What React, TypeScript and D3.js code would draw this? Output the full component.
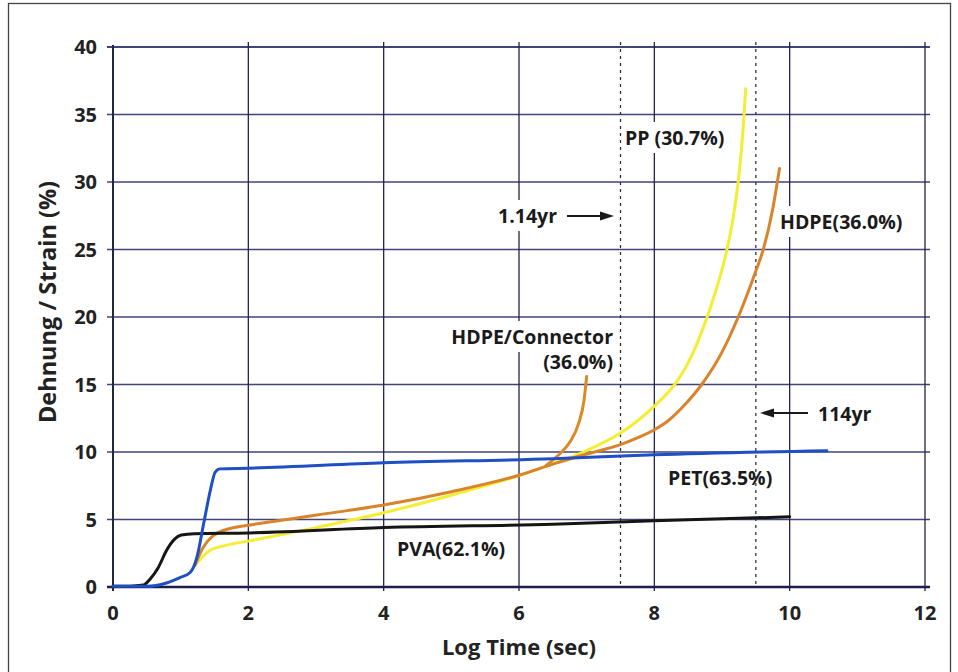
import React, { useEffect, useRef } from "react";
import * as d3 from "d3";

// ---------- data ----------
const xTicks = [0, 2, 4, 6, 8, 10, 12];
const yTicks = [0, 5, 10, 15, 20, 25, 30, 35, 40];
const markerLines = [7.5, 9.5];

const pvaX = [0, 0.3, 0.45, 0.55, 0.67, 0.79, 0.91, 1.01, 1.2, 2, 4, 6.5, 8, 10];
const pvaY = [0.05, 0.08, 0.15, 0.6, 1.45, 2.7, 3.55, 3.85, 3.95, 4.0, 4.4, 4.65, 4.9, 5.2];

const petX = [0, 0.3, 0.5, 0.79, 0.99, 1.14, 1.24, 1.34, 1.44, 1.51, 1.58, 2, 4, 6.5, 8, 10.55];
const petY = [0.05, 0.05, 0.05, 0.3, 0.7, 1.07, 2.2, 4.7, 7.2, 8.5, 8.75, 8.8, 9.2, 9.5, 9.8, 10.1];

const hdpeX = [1.21, 1.33, 1.48, 1.78, 2.03, 3.01, 4, 5, 6, 6.5, 7.0, 7.5, 7.8, 8.0, 8.2, 8.45, 8.7, 9.0, 9.24, 9.5, 9.61, 9.75, 9.85];
const hdpeY = [1.6, 2.9, 3.8, 4.4, 4.6, 5.33, 6.07, 7.06, 8.28, 9.1, 9.85, 10.55, 11.15, 11.65, 12.3, 13.5, 15.0, 17.4, 20.0, 23.4, 25.0, 28.0, 31.0];

const ppX = [1.21, 1.43, 1.68, 2, 3, 4, 5, 6, 6.6, 7.0, 7.5, 7.8, 8.0, 8.3, 8.5, 8.7, 8.9, 9.05, 9.17, 9.25, 9.31, 9.35];
const ppY = [1.6, 2.7, 3.1, 3.4, 4.4, 5.5, 6.8, 8.25, 9.3, 10.1, 11.4, 12.5, 13.4, 15.0, 16.6, 18.9, 21.8, 24.5, 27.5, 30.5, 33.8, 36.9];

const connX = [6.4, 6.6, 6.76, 6.88, 6.96, 7.0];
const connY = [9.0, 9.85, 10.8, 12.1, 13.8, 15.6];

const seriesNames = ["PP", "HDPE/Connector", "HDPE", "PVA", "PET"];

export default function App() {
  const ref = useRef<SVGSVGElement | null>(null);

  useEffect(() => {
    const svg = d3.select(ref.current);
    svg.selectAll("*").remove();
    const W = 958, H = 672;
    const x = d3.scaleLinear().domain([0, 12]).range([113, 925]);
    const y = d3.scaleLinear().domain([0, 40]).range([587, 47]);
    const font = "'Open Sans', sans-serif";
    const grid = "#2c2f6e";

    svg.append("rect").attr("x", 0).attr("y", 0).attr("width", W).attr("height", H).attr("fill", "#fff");
    svg.append("rect").attr("x", 8.5).attr("y", 3.5).attr("width", 942).attr("height", 720)
      .attr("fill", "none").attr("stroke", "#444").attr("stroke-width", 1.3);

    const g = svg.append("g");
    g.selectAll("line.h").data(yTicks.filter(t => t > 0)).join("line")
      .attr("x1", 107).attr("x2", 930)
      .attr("y1", d => y(d)).attr("y2", d => y(d))
      .attr("stroke", grid).attr("stroke-width", d => (d === 40 ? 2 : 1.3)).attr("opacity", 0.9);
    g.selectAll("line.v").data(xTicks.filter(t => t > 0)).join("line")
      .attr("x1", d => x(d)).attr("x2", d => x(d))
      .attr("y1", y(40) - 5).attr("y2", y(0) + 4)
      .attr("stroke", "#23244a").attr("stroke-width", 1.3);

    const bgLayer = svg.append("g");
    svg.selectAll("line.m").data(markerLines).join("line")
      .attr("x1", d => x(d)).attr("x2", d => x(d))
      .attr("y1", y(40) - 5).attr("y2", y(0))
      .attr("stroke", "#333").attr("stroke-width", 1.3).attr("stroke-dasharray", "3,4");

    svg.append("line").attr("x1", x(0)).attr("x2", x(0)).attr("y1", y(40) - 2).attr("y2", y(0) + 4)
      .attr("stroke", "#1d2a3a").attr("stroke-width", 2);
    svg.append("line").attr("x1", x(0) - 6).attr("x2", 930).attr("y1", y(0)).attr("y2", y(0))
      .attr("stroke", "#1d1f4a").attr("stroke-width", 2.5);

    svg.selectAll("text.yt").data(yTicks).join("text")
      .attr("x", 97).attr("y", d => y(d)).attr("dy", "0.36em").attr("text-anchor", "end")
      .attr("font-family", font).attr("font-weight", 700).attr("font-size", 20).attr("fill", "#222")
      .text(d => String(d));
    svg.selectAll("text.xt").data(xTicks).join("text")
      .attr("x", d => x(d)).attr("y", 620).attr("text-anchor", "middle")
      .attr("font-family", font).attr("font-weight", 700).attr("font-size", 20).attr("fill", "#222")
      .text(d => String(d));

    svg.append("text").attr("x", x(6)).attr("y", 655).attr("text-anchor", "middle")
      .attr("font-family", font).attr("font-weight", 700).attr("font-size", 22).attr("fill", "#222")
      .text("Log Time (sec)");
    svg.append("text").attr("transform", `translate(56,302) rotate(-90)`).attr("text-anchor", "middle")
      .attr("font-family", font).attr("font-weight", 700).attr("font-size", 23.5).attr("fill", "#222")
      .text("Dehnung / Strain (%)");

    const line = d3.line<[number, number]>().x(d => x(d[0])).y(d => y(d[1])).curve(d3.curveMonotoneX);
    const zip = (a: number[], b: number[]) => a.map((v, i) => [v, b[i]] as [number, number]);
    const series = [
      { name: seriesNames[0], pts: zip(ppX, ppY), color: "#f3ee33" },
      { name: seriesNames[1], pts: zip(connX, connY), color: "#dc8a24" },
      { name: seriesNames[2], pts: zip(hdpeX, hdpeY), color: "#d9832a" },
      { name: seriesNames[3], pts: zip(pvaX, pvaY), color: "#151515" },
      { name: seriesNames[4], pts: zip(petX, petY), color: "#1f4fc4" },
    ];
    svg.selectAll("path.s").data(series).join("path")
      .attr("d", d => line(d.pts) as string)
      .attr("fill", "none").attr("stroke", d => d.color).attr("stroke-width", 3)
      .attr("stroke-linecap", "round").attr("stroke-linejoin", "round");

    const label = (tx: number, ty: number, txt: string, anchor: string, bg: boolean) => {
      const t = svg.append("text").attr("x", tx).attr("y", ty).attr("text-anchor", anchor)
        .attr("font-family", font).attr("font-weight", 700).attr("font-size", 19.5).attr("fill", "#1a1a1a")
        .text(txt);
      if (bg) {
        const b = (t.node() as SVGTextElement).getBBox();
        bgLayer.append("rect").attr("x", b.x - 2).attr("y", b.y - 2)
          .attr("width", b.width + 4).attr("height", b.height + 4).attr("fill", "#fff");
      }
    };
    label(625, 145, "PP (30.7%)", "start", true);
    label(780, 229, "HDPE(36.0%)", "start", true);
    label(557, 223, "1.14yr", "end", true);
    label(613, 344, "HDPE/Connector", "end", true);
    label(613, 369, "(36.0%)", "end", true);
    label(818, 421, "114yr", "start", false);
    label(668, 485, "PET(63.5%)", "start", false);
    label(397, 556, "PVA(62.1%)", "start", false);

    const arrow = (x1: number, x2: number, yy: number) => {
      const dir = Math.sign(x2 - x1);
      svg.append("line").attr("x1", x1).attr("x2", x2 - dir * 10).attr("y1", yy).attr("y2", yy)
        .attr("stroke", "#1a1a1a").attr("stroke-width", 2);
      svg.append("path")
        .attr("d", `M${x2},${yy} L${x2 - dir * 14},${yy - 4.5} L${x2 - dir * 14},${yy + 4.5} Z`)
        .attr("fill", "#1a1a1a");
    };
    arrow(567, 614, 216);
    arrow(808, 760, 413);
  }, []);

  return (
    <svg ref={ref} width={958} height={672}
      style={{ position: "absolute", left: 0, top: 0, display: "block" }} />
  );
}
